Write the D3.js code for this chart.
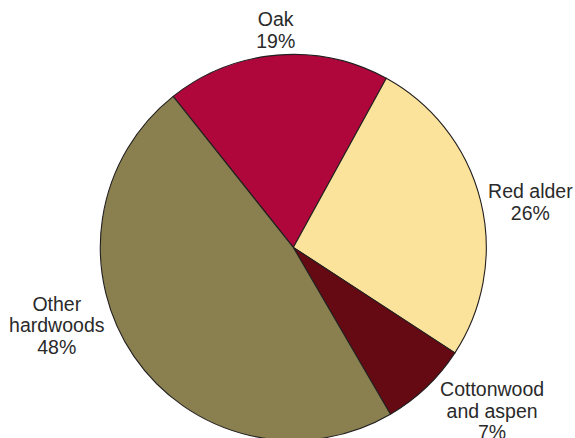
<!DOCTYPE html>
<html>
<head>
<meta charset="utf-8">
<script src="https://cdn.jsdelivr.net/npm/d3@7"></script>
<style>
  html, body { margin: 0; padding: 0; background: #fff; }
  svg { display: block; }
</style>
</head>
<body>
<svg id="chart" width="575" height="438"></svg>
<script>
// Data
const categories = ["Oak", "Red alder", "Cottonwood and aspen", "Other hardwoods"];
const labelLines = [["Oak"], ["Red alder"], ["Cottonwood", "and aspen"], ["Other", "hardwoods"]];
const shares = [18.7, 26.2, 7.4, 47.7];
const colors = ["#AF063B", "#FCE39B", "#650912", "#8A804F"];

// Layout
const W = 575, H = 438;
const cx = 293.3, cy = 247.4, R = 193;
const startDeg = -38.5;
const labelR = 232;
const labelNudge = [[2, 14], [12, 11], [39, -5], [-45, -53]];
const lineH = 21.5;

const svg = d3.select("#chart");
const g = svg.append("g").attr("transform", `translate(${cx},${cy})`);

const data = categories.map((c, i) => ({ name: c, value: shares[i], color: colors[i], lines: labelLines[i] }));

const start = startDeg * Math.PI / 180;
const pie = d3.pie().value(d => d.value).sort(null)
  .startAngle(start).endAngle(start + 2 * Math.PI);
const arcs = pie(data);

const arc = d3.arc().innerRadius(0).outerRadius(R);
const labelArc = d3.arc().innerRadius(labelR).outerRadius(labelR);

g.selectAll("path.slice").data(arcs).enter().append("path")
  .attr("class", "slice")
  .attr("d", arc)
  .attr("fill", d => d.data.color)
  .attr("stroke", "#231f20")
  .attr("stroke-width", 1.1)
  .attr("stroke-linejoin", "round");

const labels = g.selectAll("text.lbl").data(arcs).enter().append("text")
  .attr("class", "lbl")
  .attr("font-family", "'Liberation Sans', Arial, sans-serif")
  .attr("font-size", 19.5)
  .attr("fill", "#2a2a2a")
  .attr("text-anchor", "middle")
  .attr("transform", (d, i) => {
    const [x, y] = labelArc.centroid(d);
    return `translate(${x + labelNudge[i][0]},${y + labelNudge[i][1]})`;
  });

labels.each(function(d) {
  const lines = d.data.lines.concat([Math.round(d.data.value) + "%"]);
  const n = lines.length;
  const first = -(n - 1) * lineH / 2 + 7;
  d3.select(this).selectAll("tspan").data(lines).enter().append("tspan")
    .attr("x", 0)
    .attr("y", (t, j) => first + j * lineH)
    .text(t => t);
});
</script>
</body>
</html>
